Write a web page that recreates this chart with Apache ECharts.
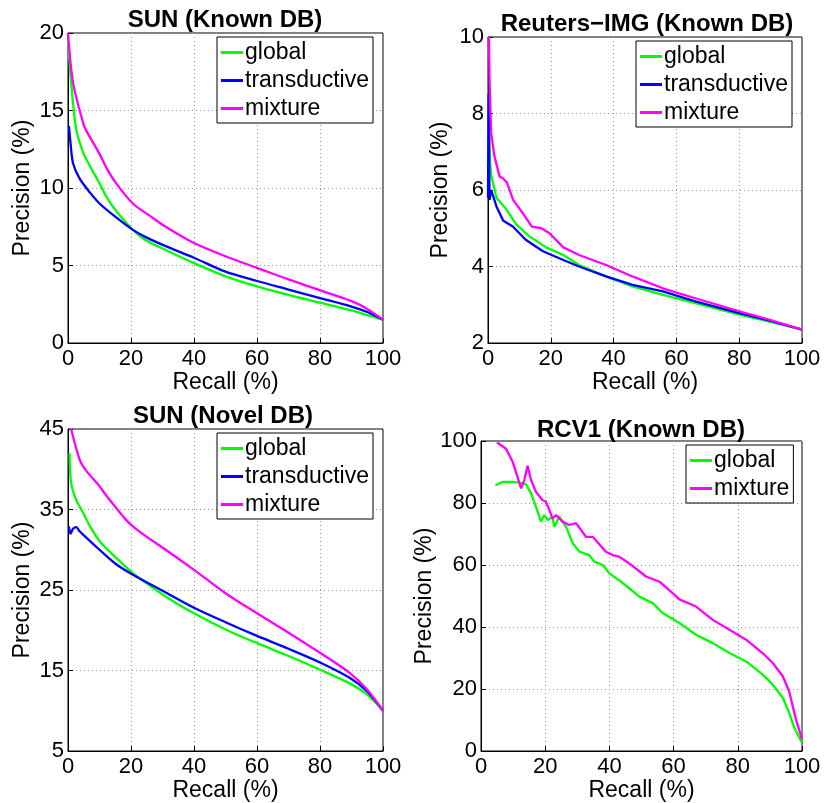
<!DOCTYPE html>
<html>
<head>
<meta charset="UTF-8">
<title>Precision / Recall</title>
<script src="https://cdn.jsdelivr.net/npm/echarts@6/dist/echarts.min.js"></script>
<style>
  html, body { margin: 0; padding: 0; background: #fff; }
  #chart { width: 826px; height: 803px; }
</style>
</head>
<body>
<div id="chart"></div>
<script type="text/javascript">
// SUN (Known DB)
var sunKnownGlobalR = [0, 1, 2.6, 4.8, 7, 10, 12, 15, 20.6, 25, 31, 40, 50, 60, 70, 80, 90, 95, 100];
var sunKnownGlobalP = [19.6, 16.8, 13.8, 12.3, 11.4, 10.3, 9.5, 8.6, 7.3, 6.6, 6.0, 5.15, 4.3, 3.65, 3.1, 2.6, 2.1, 1.8, 1.5];
var sunKnownTransR = [0.3, 0.8, 1.6, 3.7, 7, 10, 15.3, 20.6, 25, 31, 40, 50, 60, 70, 80, 90, 95, 100];
var sunKnownTransP = [14, 12.9, 11.6, 10.6, 9.7, 9.0, 8.1, 7.3, 6.8, 6.25, 5.5, 4.6, 4.0, 3.45, 2.9, 2.35, 2.0, 1.5];
var sunKnownMixR = [0, 1.6, 4.8, 5.8, 10, 12.2, 15.3, 20.6, 26, 31, 40, 50, 60, 70, 80, 90, 95, 100];
var sunKnownMixP = [20, 16.8, 14.2, 13.7, 12.2, 11.3, 10.3, 9.0, 8.2, 7.5, 6.45, 5.6, 4.85, 4.1, 3.4, 2.7, 2.2, 1.5];

// Reuters-IMG (Known DB)
var reutersGlobalR = [0, 0.3, 0.6, 1, 2.7, 5.8, 9, 13, 18.5, 24, 29, 37.6, 46, 55.7, 66, 80, 90, 100];
var reutersGlobalP = [6.5, 7.9, 6.8, 6.4, 5.8, 5.5, 5.1, 4.8, 4.5, 4.3, 4.04, 3.74, 3.48, 3.26, 3.04, 2.74, 2.55, 2.35];
var reutersTransR = [0, 0.2, 0.5, 1, 2.7, 4.8, 8, 12, 17.5, 24, 29, 37.6, 46, 55.7, 66, 80, 90, 100];
var reutersTransP = [5.8, 8.5, 5.74, 6.0, 5.57, 5.2, 5.04, 4.7, 4.4, 4.17, 4.0, 3.74, 3.52, 3.35, 3.09, 2.78, 2.58, 2.35];
var reutersMixR = [0.3, 0.5, 1, 2, 3.7, 4.8, 6, 8, 11, 14, 17, 19.6, 24, 29, 37.6, 46, 55.7, 66, 80, 90, 100];
var reutersMixP = [10, 8.8, 7.5, 6.9, 6.35, 6.3, 6.2, 5.74, 5.4, 5.04, 5.0, 4.87, 4.5, 4.3, 4.04, 3.74, 3.43, 3.17, 2.83, 2.6, 2.35];

// SUN (Novel DB)
var sunNovelGlobalR = [0.5, 1, 2.6, 4.8, 7, 10, 15.3, 20.6, 31, 40, 50, 60, 70, 80, 89.4, 95, 100];
var sunNovelGlobalP = [42, 38.3, 36.2, 34.6, 32.9, 31.1, 29.0, 27.1, 24.2, 22.1, 20.1, 18.4, 16.8, 15.1, 13.4, 12, 10];
var sunNovelTransR = [0.3, 0.8, 1.6, 2.6, 3.7, 5.8, 10, 15.3, 20.6, 31, 40, 50, 60, 70, 80, 89.4, 95, 100];
var sunNovelTransP = [32.9, 32.0, 32.6, 32.8, 32.3, 31.5, 30.0, 28.2, 26.9, 24.7, 22.8, 21.0, 19.3, 17.7, 16.0, 14.1, 12.4, 10];
var sunNovelMixR = [1, 3.7, 5.8, 10, 12, 15.3, 18, 20.6, 25, 31, 40, 50, 60, 70, 80, 89.4, 95, 100];
var sunNovelMixP = [45, 41.2, 39.8, 37.9, 36.8, 35.2, 33.9, 32.9, 31.6, 30.0, 27.5, 24.6, 22.1, 19.7, 17.2, 14.7, 12.6, 10];

// RCV1 (Known DB)
var rcvGlobalR = [4.5, 6.7, 9.9, 13, 14, 15.6, 17.1, 18.7, 19.7, 20.8, 22.3, 22.8, 24.4, 26.5, 28.6, 30.6, 33.7, 35.3, 37.9, 40, 43, 46.2, 49.3, 53.5, 56.6, 61.8, 67, 72.2, 77.4, 82.6, 87.7, 90.9, 94, 96, 97.6, 100];
var rcvGlobalP = [85.7, 86.8, 86.8, 86.4, 86.0, 83.1, 78.8, 74, 76.1, 74.5, 75.5, 72.3, 75.6, 72.3, 67, 64.3, 63.2, 61.1, 60, 57.3, 55.1, 52.5, 49.8, 47.7, 44.5, 41.3, 37.5, 34.8, 31.6, 28.9, 24.7, 21.4, 17.2, 12.3, 7.5, 2.7];
var rcvMixR = [5, 7.8, 9.9, 12.5, 13.5, 14.5, 15.6, 17.1, 19.2, 20.2, 21.3, 22.3, 23.4, 25.4, 27.5, 29.6, 32.7, 34.8, 38.9, 41, 43, 46.2, 51.4, 55.6, 59.7, 61.8, 67, 72.2, 77.4, 82.6, 87.7, 90.9, 94, 96, 98.1, 100];
var rcvMixP = [99.5, 97.5, 93.2, 84.7, 87.4, 92, 87.4, 83.6, 80.9, 80.5, 77.7, 75, 76.1, 74, 72.9, 73.5, 69.1, 69.1, 64.3, 63.2, 62.7, 60.5, 56.3, 54.6, 50.9, 48.9, 46.6, 42.3, 39.1, 35.9, 31.6, 28.4, 24.1, 19.3, 10.2, 3.8];

var titles = ['SUN (Known DB)', 'Reuters\u2212IMG (Known DB)', 'SUN (Novel DB)', 'RCV1 (Known DB)'];
var yRanges = [[0, 20, 5], [2, 10, 2], [5, 45, 10], [0, 100, 20]];

var FONT = 'Liberation Sans, Arial, Helvetica, sans-serif';
var GREEN = '#00ff00', BLUE = '#0000ff', MAGENTA = '#ff00ff';

function zip(r, p) {
	var out = [];
	for (var i = 0; i < r.length; i++) out.push([r[i], p[i]]);
	return out;
}

// panel boxes (left, top, width, height)
var boxes = [
	[68, 33, 315, 310],
	[488, 37, 314, 306],
	[68, 429, 315, 323],
	[481, 441, 321, 311]
];
var yNameGaps = [34, 36, 34, 33];
var titlePos = [[225, 20], [647, 24], [223, 416], [641, 430]];
var legendPos = [[217, 37], [636, 41], [217, 433], [686, 445]];
// SUN panels are smooth curves, the text collections are jagged
var smoothPanel = [true, false, true, false];

var myChart = echarts.init(document.getElementById('chart'));

var grids = [], xAxes = [], yAxes = [], graphics = [], legends = [];
for (var k = 0; k < 4; k++) {
	var b = boxes[k];
	grids.push({left: b[0], top: b[1], width: b[2], height: b[3], show: true, borderColor: '#000', borderWidth: 1, backgroundColor: '#fff'});
	xAxes.push({
		type: 'value', gridIndex: k, min: 0, max: 100, interval: 20,
		name: 'Recall (%)', nameLocation: 'middle', nameGap: 28,
		nameTextStyle: {fontSize: 23, color: '#000', fontFamily: FONT},
		axisLine: {lineStyle: {color: '#000'}},
		axisTick: {inside: true, length: 5, lineStyle: {color: '#000'}},
		axisLabel: {fontSize: 22, color: '#000', fontFamily: FONT, margin: 5},
		splitLine: {show: true, lineStyle: {color: '#9a9a9a', type: [1, 3]}}
	});
	yAxes.push({
		type: 'value', gridIndex: k, min: yRanges[k][0], max: yRanges[k][1], interval: yRanges[k][2],
		name: 'Precision (%)', nameLocation: 'middle', nameGap: yNameGaps[k],
		nameTextStyle: {fontSize: 23, color: '#000', fontFamily: FONT},
		axisLine: {lineStyle: {color: '#000'}},
		axisTick: {inside: true, length: 5, lineStyle: {color: '#000'}},
		axisLabel: {fontSize: 22, color: '#000', fontFamily: FONT, margin: 4},
		splitLine: {show: true, lineStyle: {color: '#9a9a9a', type: [1, 3]}}
	});
	graphics.push({
		type: 'text', x: titlePos[k][0], y: titlePos[k][1], z: 100,
		style: {text: titles[k], font: 'bold 24px ' + FONT, fill: '#000', align: 'center', verticalAlign: 'middle'}
	});
	legends.push({
		orient: 'vertical', left: legendPos[k][0], top: legendPos[k][1],
		data: k === 3 ? ['global', 'mixture'] : ['global', 'transductive', 'mixture'],
		backgroundColor: '#fff', borderColor: '#000', borderWidth: 1,
		padding: [4, 4, 3, 4], itemGap: 5, itemWidth: 22, itemHeight: 3,
		icon: 'rect', selectedMode: false,
		textStyle: {fontSize: 23, color: '#000', fontFamily: FONT, padding: [0, 0, 0, -3]}
	});
}

function line(name, color, k, data) {
	return {
		name: name, type: 'line', xAxisIndex: k, yAxisIndex: k,
		data: data, symbol: 'none', showSymbol: false, animation: false,
		smooth: smoothPanel[k] ? 0.3 : false,
		lineStyle: {color: color, width: 2.3}, itemStyle: {color: color}
	};
}

var series = [
	line('global', GREEN, 0, zip(sunKnownGlobalR, sunKnownGlobalP)),
	line('transductive', BLUE, 0, zip(sunKnownTransR, sunKnownTransP)),
	line('mixture', MAGENTA, 0, zip(sunKnownMixR, sunKnownMixP)),
	line('global', GREEN, 1, zip(reutersGlobalR, reutersGlobalP)),
	line('transductive', BLUE, 1, zip(reutersTransR, reutersTransP)),
	line('mixture', MAGENTA, 1, zip(reutersMixR, reutersMixP)),
	line('global', GREEN, 2, zip(sunNovelGlobalR, sunNovelGlobalP)),
	line('transductive', BLUE, 2, zip(sunNovelTransR, sunNovelTransP)),
	line('mixture', MAGENTA, 2, zip(sunNovelMixR, sunNovelMixP)),
	line('global', GREEN, 3, zip(rcvGlobalR, rcvGlobalP)),
	line('mixture', MAGENTA, 3, zip(rcvMixR, rcvMixP))
];

var option = {
	animation: false,
	backgroundColor: '#fff',
	grid: grids,
	xAxis: xAxes,
	yAxis: yAxes,
	legend: legends,
	graphic: graphics,
	series: series
};
myChart.setOption(option);
</script>
</body>
</html>
